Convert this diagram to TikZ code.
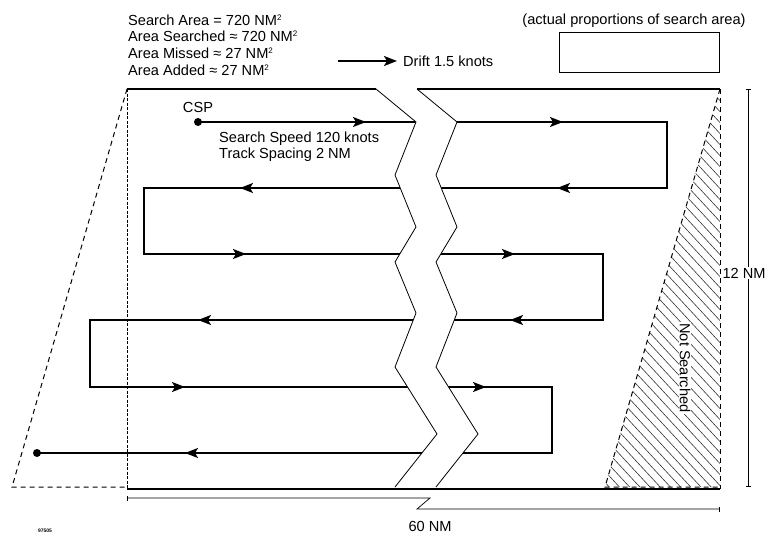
\documentclass[tikz,border=0pt]{standalone}
\usepackage{fontspec}
\setmainfont{Liberation Sans}
\usepackage{tikz}
\usetikzlibrary{arrows.meta,calc}
\newcommand\sqnm{NM\raisebox{5pt}{\fontsize{8}{8}\selectfont 2}}
\tikzset{
  lbl/.style={font=\fontsize{14.6}{16.7}\selectfont, inner sep=0pt},
  track/.style={line width=1.7pt, line join=miter},
  tip/.style={-{Stealth[length=13pt,width=10pt,inset=3pt]}, line width=1.7pt},
  rim/.style={line width=1.1pt},
  zig/.style={line width=0.8pt, line join=miter},
  fine dash/.style={line width=0.8pt, dash pattern=on 3pt off 1.5pt},
  coarse dash/.style={line width=1pt, dash pattern=on 5pt off 4pt},
  dimline/.style={line width=0.7pt, {Bar[width=5pt]}-{Bar[width=5pt]}},
  hatch/.style={line width=0.6pt, black!80},
  spot/.style={circle, fill, inner sep=0pt, minimum size=8pt},
}

\begin{document}
\begin{tikzpicture}[x=1pt,y=-1pt]
\useasboundingbox (0,0) rectangle (776,536);
% --- figures at top left
\node[lbl, anchor=base west] (info1) at (128,25) {Search Area = 720 \sqnm};
\node[lbl, anchor=base west] (info2) at (128,41.5) {Area Searched ≈ 720 \sqnm};
\node[lbl, anchor=base west] (info3) at (128,58) {Area Missed ≈ 27 \sqnm};
\node[lbl, anchor=base west] (info4) at (128,75) {Area Added ≈ 27 \sqnm};
% --- drift
\coordinate (drift0) at (338,61);
\coordinate (drift1) at (397,61);
\node[lbl, anchor=base west] (drift) at (403,66.5) {Drift 1.5 knots};
\draw[tip] (drift0) -- (drift1);
% --- proportions box
\node[lbl, anchor=base] (prop) at (634,24) {(actual proportions of search area)};
\node[draw, line width=0.9pt, minimum width=160pt, minimum height=40pt, anchor=north west] (pbox) at (559,32) {};
% --- not searched wedge
\begin{scope}
  \clip (720,89) -- (605,487) -- (720,487) -- cycle;
  \foreach \c in {-688,-677,...,-166}
    \draw[hatch] (590,\c+637.2) -- (730,\c+788.4);
\end{scope}
\node[lbl, rotate=-90, fill=white, inner sep=1pt] (notsearched) at (685,368) {Not Searched};
\draw[coarse dash] (720,89) -- (605,487) -- (720,487);
\draw[coarse dash] (720,89) -- (720,489);
% --- added wedge
\draw[coarse dash] (127,89) -- (12,487) -- (127,487);
% --- search track
\node[spot] (cspdot) at (198,122) {};
\node[spot] (enddot) at (37,453) {};
\node[lbl, anchor=base] (csp) at (198,112) {CSP};
\draw[track] (cspdot.center) -- (667,122) -- (667,188) -- (144,188) -- (144,254) -- (603,254)
  -- (603,320) -- (90,320) -- (90,387) -- (552,387) -- (552,453) -- (enddot.center);
\foreach \xa/\xb/\yy in {350/366/122, 547/563/122, 256/240/188, 573/557/188, 230/246/254,
  499/515/254, 214/198/320, 526/510/320, 169/185/387, 470/486/387, 201/185/453}
  \draw[tip] (\xa,\yy) -- (\xb,\yy);
\node[lbl, anchor=base west] (speed) at (219,142) {Search Speed 120 knots};
\node[lbl, anchor=base west] (spacing) at (219,158.5) {Track Spacing 2 NM};
% --- break in the area
\fill[white] (376,89) -- (416,122) -- (395,175) -- (416,227) -- (395,262) -- (416,313) -- (395,367)
  -- (437,434) -- (395,487) -- (436,487) -- (478,434) -- (436,367) -- (457,313) -- (436,262)
  -- (457,227) -- (436,175) -- (457,122) -- (417,89) -- cycle;
\foreach \dx in {0,41}
  \draw[zig] (376+\dx,89) -- (416+\dx,122) -- (395+\dx,175) -- (416+\dx,227) -- (395+\dx,262)
    -- (416+\dx,313) -- (395+\dx,367) -- (437+\dx,434) -- (395+\dx,487);
% --- area outline
\draw[rim] (127,89) -- (376,89);
\draw[rim] (417,89) -- (720,89);
\draw[rim] (127,489) -- (720,489);
\draw[fine dash] (127,89) -- (127,489);
% --- dimensions
\draw[dimline] (127,498) -- (430,498) -- (417,509) -- (720,509);
\node[lbl, anchor=base] (dimx) at (430,531) {60 NM};
\draw[dimline] (748,89) -- (748,487);
\node[lbl, fill=white, inner sep=1pt, anchor=base] (dimy) at (744,278) {12 NM};
\node[font=\fontsize{5}{6}\selectfont\bfseries, inner sep=0pt] (figno) at (45,531) {97505};
\end{tikzpicture}
\end{document}
